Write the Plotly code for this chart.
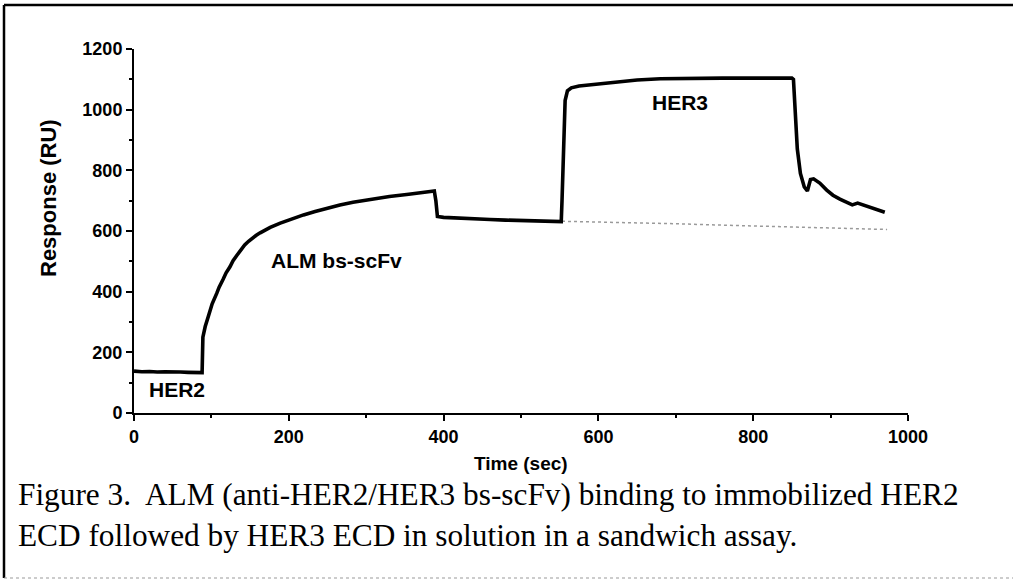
import plotly.graph_objects as go

# ---- data ----
time_s = [0, 10, 20, 30, 40, 50, 60, 70, 80, 88, 89, 90, 92, 96, 101, 107, 110, 115, 119, 124,
          128, 133, 138, 143, 148, 153, 158, 163, 170, 176, 189, 204, 219, 234, 249, 266, 283, 305,
          330, 355, 375, 385, 388, 390, 392, 400, 420, 440, 460, 480, 500, 520, 540, 552, 553, 555,
          557, 560, 565, 575, 590, 610, 630, 650, 680, 720, 760, 800, 830, 850, 852, 854, 857, 861,
          866, 870, 874, 878, 886, 895, 903, 912, 920, 928, 935, 945, 955, 962, 970]
response_ru = [138, 136, 137, 135, 136, 134, 135, 134, 133, 133, 250, 262, 285, 318, 360, 395, 415, 440, 462, 482,
               502, 520, 538, 554, 566, 577, 586, 594, 604, 612, 626, 640, 653, 664, 675, 686, 695, 705,
               714, 721, 727, 730, 732, 700, 648, 645, 642, 641, 638, 636, 634, 632, 631, 631, 700, 900,
               1030, 1062, 1072, 1078, 1082, 1088, 1092, 1098, 1102, 1104, 1104, 1104, 1104, 1104, 1100, 1000, 870, 790,
               745, 732, 770, 772, 758, 735, 718, 705, 695, 686, 692, 683, 675, 670, 662]

ref_time_s = [553, 600, 650, 700, 750, 800, 850, 900, 950, 973]
ref_response_ru = [632, 630, 627, 624, 620, 617, 614, 611, 607, 605]

label_text = ["HER2", "ALM bs-scFv", "HER3"]
label_x = [55, 262, 705]
label_y = [76, 502, 1025]

x_ticks = [0, 200, 400, 600, 800, 1000]
y_ticks = [0, 200, 400, 600, 800, 1000, 1200]

caption = ("Figure 3.\u00a0 ALM (anti-HER2/HER3 bs-scFv) binding to immobilized HER2<br>"
           "ECD followed by HER3 ECD in solution in a sandwich assay.")

W, H = 1013, 585
L, R, T, B = 134, 105, 49, 172
PW, PH = W - L - R, H - T - B


def px(x):
    return (x - L) / PW


def py(y):
    return (H - B - y) / PH


fig = go.Figure()
fig.add_trace(go.Scatter(x=ref_time_s, y=ref_response_ru, mode="lines",
                         line=dict(color="#9a9a9a", width=1.5, dash="dot"),
                         hoverinfo="skip", showlegend=False))
fig.add_trace(go.Scatter(x=time_s, y=response_ru, mode="lines",
                         line=dict(color="black", width=3.6),
                         showlegend=False))

for t, x, y in zip(label_text, label_x, label_y):
    fig.add_annotation(x=x, y=y, xref="x", yref="y", text=t, showarrow=False,
                       xanchor="center", yanchor="middle",
                       font=dict(family="Liberation Sans, Arial", size=21, color="black", weight="bold"))

axis_font = dict(family="Liberation Sans, Arial", size=18, color="black", weight="bold")

fig.update_xaxes(range=[0, 1000], tickvals=x_ticks, ticktext=[str(v) for v in x_ticks],
                 showgrid=False, zeroline=False, showline=True, linecolor="black", linewidth=2,
                 ticks="outside", ticklen=6, tickwidth=2, tickcolor="black", tickfont=axis_font,
                 minor=dict(dtick=100, tick0=0, ticks="outside", ticklen=3, tickwidth=1.5, tickcolor="black"))
fig.update_yaxes(range=[0, 1200], tickvals=y_ticks, ticktext=[str(v) for v in y_ticks],
                 showgrid=False, zeroline=False, showline=True, linecolor="black", linewidth=2,
                 ticks="outside", ticklen=6, tickwidth=2, tickcolor="black", tickfont=axis_font,
                 minor=dict(dtick=100, tick0=0, ticks="outside", ticklen=3, tickwidth=1.5, tickcolor="black"))

# axis titles as annotations (paper coords)
fig.add_annotation(x=px(521), y=py(463), xref="paper", yref="paper", xanchor="center", yanchor="middle",
                   text="Time (sec)", showarrow=False,
                   font=dict(family="Liberation Sans, Arial", size=19, color="black", weight="bold"))
fig.add_annotation(x=px(48), y=py(198), xref="paper", yref="paper", xanchor="center", yanchor="middle",
                   text="Response (RU)", showarrow=False, textangle=-90,
                   font=dict(family="Liberation Sans, Arial", size=22, color="black", weight="bold"))

# caption
fig.add_annotation(x=px(16), y=py(515), xref="paper", yref="paper",
                   xanchor="left", yanchor="middle", align="left", text=caption, showarrow=False,
                   font=dict(family="Liberation Serif, Times New Roman", size=31.3, color="black"))

# outer frame
fig.add_shape(type="line", xref="paper", yref="paper", x0=px(4), x1=px(1013), y0=py(5), y1=py(5),
              line=dict(color="black", width=2.5))
fig.add_shape(type="line", xref="paper", yref="paper", x0=px(4), x1=px(4), y0=py(5), y1=py(578),
              line=dict(color="black", width=2.5))
fig.add_shape(type="line", xref="paper", yref="paper", x0=px(4), x1=px(1013), y0=py(578), y1=py(578),
              line=dict(color="#999999", width=1, dash="dot"))

fig.update_layout(width=W, height=H, margin=dict(l=L, r=R, t=T, b=B),
                  paper_bgcolor="white", plot_bgcolor="white", showlegend=False)

fig.write_html("out.html", config={"displayModeBar": False},
               post_script="document.body.style.margin='0';")
